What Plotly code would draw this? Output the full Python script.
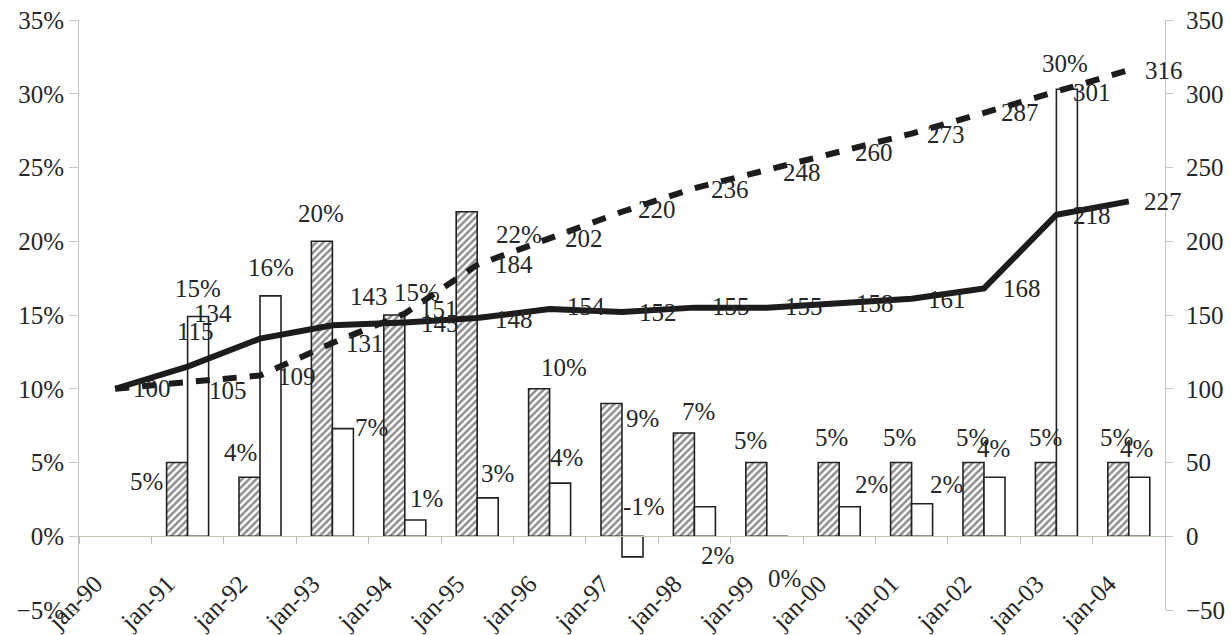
import plotly.graph_objects as go

# Categories (January of each year)
categories = ["jan-90", "jan-91", "jan-92", "jan-93", "jan-94", "jan-95", "jan-96",
              "jan-97", "jan-98", "jan-99", "jan-00", "jan-01", "jan-02", "jan-03", "jan-04"]

# Annual rates in percent (bars, left axis); None where no bar
rate_hatched = [None, 5, 4, 20, 15, 22, 10, 9, 7, 5, 5, 5, 5, 5, 5]
rate_white = [None, 14.9, 16.3, 7.3, 1.1, 2.6, 3.6, -1.4, 2.0, 0, 2.0, 2.2, 4.0, 30.3, 4.0]

# Index series (lines, right axis), base 100 in jan-90
index_solid = [100, 115, 134, 143, 145, 148, 154, 152, 155, 155, 158, 161, 168, 218, 227]
index_dashed = [100, 105, 109, 131, 151, 184, 202, 220, 236, 248, 260, 273, 287, 301, 316]

# Label offsets in pixels (dx, dy) relative to each point
off_hatched = [None, (-41, -19), (-20, 25), (-11, 28), (12, 23), (42, -23), (14, 21), (20, -15),
               (4, 22), (-16, 22), (-8, 25), (-12, 25), (-12, 25), (-11, 25), (-12, 25)]
off_white = [None, (10, 28), (11, 28), (39, 1), (22, 22), (20, 24), (17, 26), (22, 50),
             (23, -49), (18, -42), (32, 22), (35, 19), (9, 29), (9, 26), (8, 29)]
off_solid = [(37, 0), (8, 35), (-47, 25), (37, 29), (35, -1), (37, -2), (36, 3), (36, 0),
             (37, 1), (37, 1), (36, 0), (35, -1), (38, 0), (36, -1), (34, 0)]
off_dashed = [None, (40, -9), (37, -1), (33, 0), (34, 4), (37, 0), (34, 0), (35, 2),
              (36, -1), (35, -2), (35, 0), (34, -1), (36, 0), (36, 0), (35, 0)]

FONT = "Liberation Serif, Times New Roman, serif"
TXT = "#262626"
FS = 25

fig = go.Figure()

fig.add_trace(go.Bar(
    x=categories, y=rate_hatched, yaxis="y", name="hatched",
    marker=dict(color="white", line=dict(color="#222222", width=1.6),
                pattern=dict(shape="/", fgcolor="#1e1e1e", bgcolor="white",
                             size=5, solidity=0.5)),
))
fig.add_trace(go.Bar(
    x=categories, y=rate_white, yaxis="y", name="white",
    marker=dict(color="white", line=dict(color="#222222", width=1.6)),
))
fig.add_trace(go.Scatter(
    x=categories, y=index_dashed, yaxis="y2", mode="lines", name="dashed",
    line=dict(color="#1c1c1c", width=6, dash="14px,13px"),
))
fig.add_trace(go.Scatter(
    x=categories, y=index_solid, yaxis="y2", mode="lines", name="solid",
    line=dict(color="#1c1c1c", width=6),
))

annotations = []


def add_labels(values, offsets, yref, fmt):
    for cat, v, off in zip(categories, values, offsets):
        if v is None or off is None:
            continue
        annotations.append(dict(
            x=cat, y=v, xref="x", yref=yref, text=fmt(v), showarrow=False,
            xshift=off[0], yshift=off[1],
            font=dict(family=FONT, size=FS, color=TXT),
        ))


pct = lambda v: f"{v:.0f}%"
num = lambda v: f"{v:.0f}"
add_labels(rate_hatched, off_hatched, "y", pct)
add_labels(rate_white, off_white, "y", pct)
add_labels(index_solid, off_solid, "y2", num)
add_labels(index_dashed, off_dashed, "y2", num)

fig.update_layout(
    width=1231, height=635,
    margin=dict(l=79, r=66, t=20, b=25),
    paper_bgcolor="white", plot_bgcolor="white",
    showlegend=False,
    barmode="group", bargap=0.42, bargroupgap=0,
    font=dict(family=FONT, size=FS, color=TXT),
    annotations=annotations,
    xaxis=dict(
        type="category", range=[-0.5, 14.5], automargin=False,
        anchor="free", position=0.125,
        showline=True, linecolor="#b9cdb2", linewidth=1,
        ticks="outside", tickson="boundaries", ticklen=7, tickcolor="#bbbbbb",
        tickangle=-45, ticklabelshift=-20, ticklabelstandoff=22,
        showgrid=False, zeroline=False,
        tickfont=dict(family=FONT, size=FS, color=TXT),
    ),
    yaxis=dict(
        range=[-5, 35], dtick=5, ticksuffix="%", automargin=False,
        showline=True, linecolor="#c4c4c4", linewidth=1,
        ticks="outside", ticklen=9, tickcolor="#c4c4c4",
        showgrid=False, zeroline=False,
        tickfont=dict(family=FONT, size=FS, color=TXT),
    ),
    yaxis2=dict(
        range=[-50, 350], dtick=50, overlaying="y", side="right", automargin=False,
        showline=True, linecolor="#c4c4c4", linewidth=1,
        ticks="outside", ticklen=7, tickcolor="#c4c4c4", ticklabelstandoff=8,
        showgrid=False, zeroline=False,
        tickfont=dict(family=FONT, size=FS, color=TXT),
    ),
)

fig.write_html("out.html")
